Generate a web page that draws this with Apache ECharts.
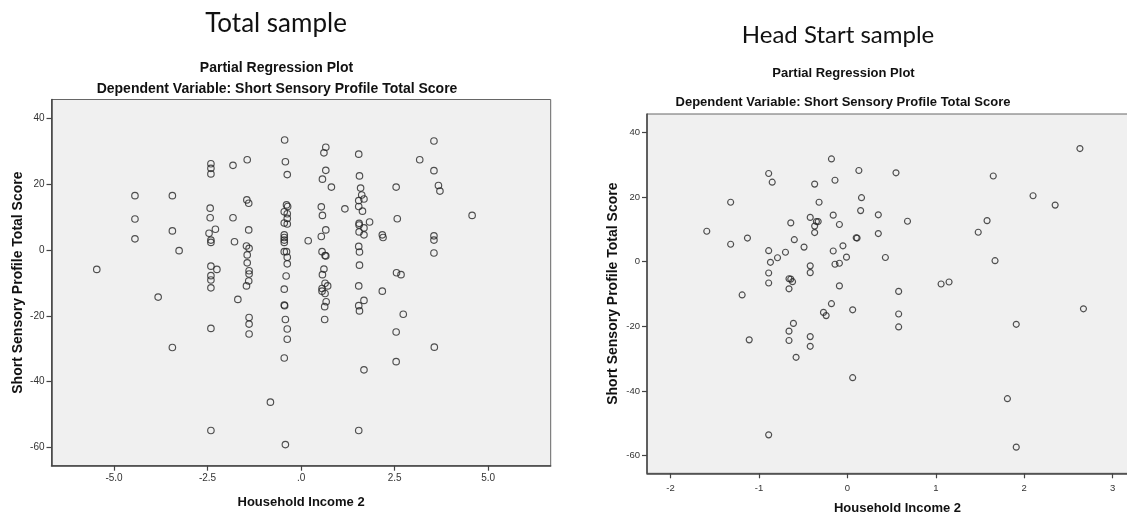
<!DOCTYPE html>
<html>
<head>
<meta charset="utf-8">
<script src="https://cdn.jsdelivr.net/npm/echarts@6/dist/echarts.min.js"></script>
<style>
  html, body { margin: 0; padding: 0; background: #ffffff; }
  #chart { width: 1127px; height: 514px; }
</style>
</head>
<body>
<div id="chart"></div>
<script>
// Total sample: household income residual (x) vs SSP total score residual (y)
const totalIncome = [
  -5.46,
  -4.44, -4.44, -4.44,
  -3.82,
  -3.44, -3.44, -3.44, -3.26,
  -2.41, -2.41, -2.41, -2.43, -2.43, -2.46, -2.41, -2.41, -2.41, -2.41, -2.41, -2.41, -2.41, -2.41,
  -2.29, -2.25,
  -1.82, -1.82, -1.78, -1.69,
  -1.44, -1.45, -1.40, -1.40, -1.46, -1.39, -1.44, -1.44, -1.39, -1.39, -1.40, -1.46, -1.39, -1.39, -1.39,
  -0.82,
  -0.44, -0.42, -0.37, -0.39, -0.36, -0.45, -0.37, -0.37, -0.45, -0.37, -0.45, -0.45, -0.45, -0.45,
  -0.45, -0.39, -0.37, -0.37, -0.40, -0.45, -0.45, -0.44, -0.42, -0.37, -0.37, -0.45, -0.42,
  0.19,
  0.66, 0.61, 0.66, 0.57, 0.81, 0.54, 0.57, 0.66, 0.54, 0.56, 0.64, 0.66, 0.61, 0.57, 0.64, 0.71,
  0.56, 0.56, 0.64, 0.67, 0.63, 0.63,
  1.17,
  1.54, 1.56, 1.59, 1.62, 1.68, 1.54, 1.54, 1.64, 1.55, 1.55, 1.68, 1.55, 1.68, 1.54, 1.56, 1.56,
  1.54, 1.68, 1.54, 1.56, 1.68, 1.54,
  1.83,
  2.17, 2.19, 2.17,
  2.54, 2.57, 2.55, 2.67, 2.73, 2.54, 2.54,
  3.17,
  3.55, 3.55, 3.67, 3.71, 3.55, 3.55, 3.55, 3.56,
  4.57
];
const totalScore = [
  -5.9,
  16.5, 9.4, 3.4,
  -14.3,
  16.5, 5.8, -29.6, -0.2,
  26.2, 24.8, 23.1, 12.7, 9.8, 5.1, 3.0, 2.3, -4.9, -7.8, -9.1, -11.5, -23.8, -54.8,
  6.3, -5.9,
  25.7, 9.8, 2.5, -15.0,
  27.4, 15.2, 14.2, 6.1, 1.2, 0.5, -1.5, -3.9, -6.3, -7.3, -9.4, -10.9, -20.5, -22.5, -25.5,
  -46.2,
  33.4, 26.8, 22.9, 13.7, 13.2, 11.6, 11.0, 9.6, 8.2, 7.9, 4.6, 3.8, 3.0, 2.3,
  -0.5, -0.5, -2.2, -4.2, -7.9, -11.9, -16.7, -16.9, -21.1, -24.0, -27.1, -32.8, -59.1,
  2.8,
  31.2, 29.5, 24.2, 21.5, 19.1, 13.1, 10.5, 6.1, 4.1, -0.5, -1.7, -1.8, -5.8, -7.5, -10.1, -10.9,
  -11.7, -12.5, -13.2, -15.7, -17.2, -21.1,
  12.5,
  29.1, 22.5, 18.8, 16.7, 15.5, 15.0, 13.2, 11.8, 8.1, 7.6, 6.7, 5.5, 4.6, 1.1, -0.6, -4.6,
  -10.9, -15.3, -16.9, -18.5, -36.4, -54.8,
  8.5,
  4.6, 3.8, -12.5,
  19.1, 9.5, -6.9, -7.5, -19.5, -24.9, -33.9,
  27.4,
  33.1, 24.1, 19.6, 17.9, 4.3, 3.0, -0.9, -29.5,
  10.5
];

// Head Start sample
const hsIncome = [
  -1.59, -1.32, -1.32, -1.13, -1.19, -1.11,
  -0.89, -0.85, -0.89, -0.87, -0.89, -0.89, -0.89,
  -0.79, -0.70, -0.64, -0.60, -0.66, -0.64, -0.62, -0.66, -0.61, -0.66, -0.66, -0.58,
  -0.49, -0.42, -0.37, -0.32, -0.37, -0.35, -0.33, -0.37, -0.42, -0.42, -0.42, -0.42,
  -0.18, -0.14, -0.16, -0.09, -0.16, -0.05, -0.01, -0.14, -0.09, -0.09, -0.18, -0.27, -0.24,
  0.06, 0.06, 0.13, 0.16, 0.15, 0.10, 0.11,
  0.55, 0.35, 0.68, 0.35, 0.43, 0.58, 0.58, 0.58,
  1.06, 1.15, 1.65, 1.58, 1.48, 1.67,
  2.10, 2.35, 2.63, 2.67,
  1.91, 1.81, 1.91
];
const hsScore = [
  9.4, 18.4, 5.4, 7.3, -10.3, -24.2,
  27.3, 24.6, 3.4, -0.2, -3.5, -6.6, -53.6,
  1.2, 2.9, 12.0, 6.8, -5.3, -5.4, -6.2, -8.4, -19.1, -21.5, -24.4, -29.6,
  4.5, 13.7, 24.0, 18.4, 11.0, 12.4, 12.4, 9.0, -1.3, -3.4, -23.2, -26.2,
  31.8, 25.2, 14.4, 11.5, 3.3, 4.9, 1.4, -0.8, -0.5, -7.5, -13.0, -15.7, -16.7,
  -14.9, -35.9, 28.2, 19.8, 15.8, 7.4, 7.3,
  27.5, 14.5, 12.5, 8.7, 1.3, -9.2, -16.2, -20.2,
  -6.9, -6.3, 26.5, 12.7, 9.1, 0.3,
  20.4, 17.5, 35.0, -14.6,
  -19.4, -42.4, -57.4
];

// Tick positions
const totalIncomeTicks = [-5, -2.5, 0, 2.5, 5];
const hsIncomeTicks = [-2, -1, 0, 1, 2, 3];
const scoreTicks = [-60, -40, -20, 0, 20, 40];

const xTitle = 'Household Income 2';
const yTitle = 'Short Sensory Profile Total Score';
const plotTitle = 'Partial Regression Plot';
const depTitle = 'Dependent Variable: Short Sensory Profile Total Score';

const zip = (xs, ys) => xs.map((x, i) => [x, ys[i]]);

// SPSS-style one-decimal labels, with zero shown as ".0"
const fmtTotal = v => {
  if (Math.abs(v) < 1e-9) return '.0';
  return v.toFixed(1);
};

function xAxisDef(gridIndex, min, max, ticks, fmt, labelSize, labelMargin, gap) {
  return {
    type: 'value', gridIndex, min, max,
    name: xTitle, nameLocation: 'middle', nameGap: gap,
    nameTextStyle: { fontFamily: 'Liberation Sans', fontWeight: 'bold', fontSize: 13, color: '#111' },
    axisLine: { show: true, onZero: false, lineStyle: { color: '#444', width: 1.5 } },
    axisTick: { show: true, length: 5, customValues: ticks, lineStyle: { color: '#444', width: 1.2 } },
    axisLabel: { customValues: ticks, formatter: fmt, fontFamily: 'Liberation Sans', fontSize: labelSize, color: '#333', margin: labelMargin },
    splitLine: { show: false }
  };
}
function yAxisDef(gridIndex, ticks, labelSize, gap, nameSize) {
  return {
    type: 'value', gridIndex, min: -65.5, max: 45.7,
    name: yTitle, nameLocation: 'middle', nameGap: gap, nameRotate: 90,
    nameTextStyle: { fontFamily: 'Liberation Sans', fontWeight: 'bold', fontSize: nameSize, color: '#111' },
    axisLine: { show: true, onZero: false, lineStyle: { color: '#444', width: 1.5 } },
    axisTick: { show: true, length: 5, customValues: ticks, lineStyle: { color: '#444', width: 1.2 } },
    axisLabel: { customValues: ticks, formatter: v => String(v), fontFamily: 'Liberation Sans', fontSize: labelSize, color: '#333', margin: 7 },
    splitLine: { show: false }
  };
}

const pointStyle = { color: 'rgba(0,0,0,0)', borderColor: '#262626', borderWidth: 1.15 };

const textEl = (x, y, text, size, weight, family) => ({
  type: 'text', x, y,
  style: { text, fontSize: size, fontWeight: weight, fontFamily: family, fill: '#111', align: 'center', verticalAlign: 'middle' }
});

const chart = echarts.init(document.getElementById('chart'), null, { renderer: 'canvas' });
chart.setOption({
  animation: false,
  backgroundColor: '#ffffff',
  grid: [
    { left: 51.5, top: 99.5, width: 499.2, height: 366.2, outerBoundsMode: 'none', containLabel: false,
      show: true, backgroundColor: '#f0f0f0', borderColor: '#666', borderWidth: 1 },
    { left: 647, top: 114, width: 501, height: 359.3, outerBoundsMode: 'none', containLabel: false,
      show: true, backgroundColor: '#f0f0f0', borderColor: '#666', borderWidth: 1 }
  ],
  xAxis: [
    xAxisDef(0, -6.67, 6.67, totalIncomeTicks, fmtTotal, 10, 8, 30),
    xAxisDef(1, -2.266, 3.4, hsIncomeTicks, v => String(v), 9.5, 10, 29)
  ],
  yAxis: [
    yAxisDef(0, scoreTicks, 10, 26, 14),
    yAxisDef(1, scoreTicks, 9.5, 27, 14)
  ],
  series: [
    { type: 'scatter', xAxisIndex: 0, yAxisIndex: 0, data: zip(totalIncome, totalScore), symbol: 'circle', symbolSize: 6.5, itemStyle: pointStyle, silent: true },
    { type: 'scatter', xAxisIndex: 1, yAxisIndex: 1, data: zip(hsIncome, hsScore), symbol: 'circle', symbolSize: 6, itemStyle: pointStyle, silent: true }
  ],
  graphic: [
    textEl(276, 24, 'Total sample', 26, 'normal', 'Lato'),
    textEl(276.5, 68, plotTitle, 14, 'bold', 'Liberation Sans'),
    textEl(277, 89, depTitle, 14, 'bold', 'Liberation Sans'),
    textEl(838, 35, 'Head Start sample', 24, 'normal', 'Lato'),
    textEl(843.5, 73.7, plotTitle, 13, 'bold', 'Liberation Sans'),
    textEl(843, 102, depTitle, 13, 'bold', 'Liberation Sans')
  ]
});
</script>
</body>
</html>
